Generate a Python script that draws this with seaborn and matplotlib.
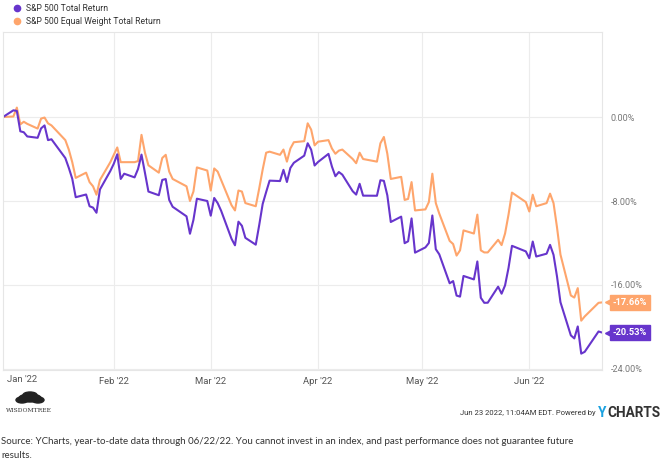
import numpy as np
import pandas as pd
import seaborn as sns
import matplotlib.pyplot as plt
from matplotlib.lines import Line2D
from matplotlib.patches import Ellipse
import matplotlib.transforms as mtransforms

# trading days, Dec 31 2021 through Jun 22 2022
holidays = ['2022-01-17', '2022-02-21', '2022-04-15', '2022-05-30', '2022-06-20']
dates = pd.bdate_range('2021-12-31', '2022-06-22')
dates = dates[~dates.isin(pd.to_datetime(holidays))]

series_names = ['S&P 500 Total Return', 'S&P 500 Equal Weight Total Return']

# YTD total return, %
sp500 = [0.0,
         0.64, 0.58, -1.36, -1.45, -1.85, -1.98, -1.08, -0.80, -2.20, -2.12,
         -3.91, -4.84, -5.88, -7.64, -7.38, -8.50, -8.63, -9.12, -6.90, -5.14,
         -4.45, -3.55, -5.90, -5.40, -5.75, -4.95, -3.58, -5.32, -7.10, -7.45,
         -5.99, -5.91, -7.90, -8.55, -9.46, -11.12, -9.80, -7.78, -8.00,
         -9.40, -7.71, -8.20, -8.93, -11.60, -12.22, -9.97, -10.36, -11.51, -12.16,
         -10.29, -8.28, -7.15, -6.06, -6.10, -5.03, -6.19, -4.85, -4.36, -3.68,
         -2.50, -3.11, -4.62,
         -4.28, -3.51, -4.72, -5.64, -5.24, -5.49, -7.07, -7.39, -6.36, -7.49,
         -7.50, -6.02, -6.08, -7.46, -10.00, -9.49, -12.02, -11.84, -9.66, -12.92,
         -12.42, -12.00, -9.38, -12.59, -13.08, -15.84, -15.63, -17.01, -17.11, -15.14,
         -15.47, -13.76, -17.22, -17.70, -17.69, -16.16, -16.83, -16.04, -14.38, -12.27,
         -12.80,
         -13.45, -11.86, -13.29, -13.02, -12.18, -13.13, -15.18, -17.64, -20.80, -21.09,
         -19.95, -22.54, -22.37, -20.43, -20.53]

sp500_ew = [0.0,
            0.05, 0.90, -0.70, -0.45, -0.65, -1.10, -0.15, -0.05, -0.60, -0.80,
            -2.20, -3.10, -4.30, -5.80, -5.30, -6.20, -6.60, -7.40, -6.00, -4.30,
            -3.60, -2.90, -4.30, -4.30, -4.30, -4.20, -1.70, -3.40, -4.60, -5.30,
            -3.90, -3.60, -5.20, -5.90, -6.60, -8.00, -7.10, -4.80, -5.10,
            -7.00, -4.90, -5.20, -6.00, -8.40, -8.90, -7.00, -7.10, -8.20, -8.50,
            -6.80, -5.00, -3.40, -3.30, -3.60, -3.10, -4.25, -3.00, -2.40, -2.30,
            -0.60, -1.20, -2.70,
            -2.35, -2.20, -3.00, -3.50, -3.20, -3.10, -4.00, -4.40, -3.40, -4.00,
            -4.25, -2.50, -1.90, -3.50, -5.90, -5.70, -7.90, -7.80, -6.20, -8.90,
            -8.80, -8.10, -5.40, -8.20, -9.20, -11.80, -12.10, -13.20, -12.70, -10.80,
            -11.10, -9.30, -12.70, -12.90, -12.90, -11.70, -12.20, -11.10, -9.30, -7.20,
            -8.10,
            -9.00, -7.40, -8.50, -8.20, -7.30, -8.20, -10.50, -13.10, -17.00, -17.20,
            -16.30, -19.40, -19.00, -17.70, -17.66]

yticks = [0, -8, -16, -24]
month_ticks = ['2022-02-01', '2022-03-01', '2022-04-01', '2022-05-01', '2022-06-01']
month_labels = ["Feb '22", "Mar '22", "Apr '22", "May '22", "Jun '22"]

purple = '#6735cc'
orange = '#fea56c'
palette = {series_names[0]: purple, series_names[1]: orange}

df = pd.DataFrame({'date': list(dates) * 2,
                   'value': sp500 + sp500_ew,
                   'series': [series_names[0]] * len(dates) + [series_names[1]] * len(dates)})

sns.set_style('white')
plt.rcParams['font.family'] = ['Roboto', 'DejaVu Sans']

fig = plt.figure(figsize=(6.62, 4.72), dpi=100)
ax = fig.add_axes([3 / 662, 1 - 370 / 472, 599 / 662, 338 / 472])

sns.lineplot(data=df, x='date', y='value', hue='series', hue_order=series_names[::-1],
             palette=palette, linewidth=1.5, ax=ax, legend=False)

ax.set_xlim(pd.Timestamp('2021-12-31'), pd.Timestamp('2022-06-22'))
ax.set_ylim(-24.1, 8.1)
ax.set_xlabel('')
ax.set_ylabel('')

# grid
ax.set_yticks(yticks)
ax.set_xticks(pd.to_datetime(month_ticks))
ax.grid(True, color='#ececec', linewidth=0.8)
for sp in ax.spines.values():
    sp.set_color('#e6e6e6')
    sp.set_linewidth(0.8)

ax.yaxis.tick_right()
ax.set_yticklabels([f'{v:.2f}%' for v in yticks], fontsize=6.5, color='#777777')
ax.set_xticklabels(month_labels, fontsize=6.8, color='#555555')
ax.tick_params(axis='both', length=0)
ax.tick_params(axis='y', pad=6)
ax.tick_params(axis='x', pad=5)
fig.text(22 / 662, 1 - 380 / 472, "Jan '22", fontsize=6.8, color='#555555', ha='center', va='center')

# end-value tags
trans = mtransforms.blended_transform_factory(ax.transAxes, ax.transData)
for vals, col in [(sp500_ew, orange), (sp500, purple)]:
    last = vals[-1]
    ax.plot([1.012], [last], marker='<', color=col, markersize=6, transform=trans, clip_on=False)
    ax.text(1.018, last, f'{last:.2f}%', transform=trans, fontsize=6.7, color='white',
            fontweight='bold', ha='left', va='center', clip_on=False,
            bbox=dict(boxstyle='square,pad=0.3', fc=col, ec=col))

# legend
handles = [Line2D([], [], marker='o', linestyle='', color=purple, markersize=4.5),
           Line2D([], [], marker='o', linestyle='', color=orange, markersize=4.5)]
fig.legend(handles, series_names, loc='upper left', bbox_to_anchor=(4 / 662, 1 + 4 / 472),
           frameon=False, fontsize=6.2, handletextpad=0.5, labelspacing=0.55,
           handlelength=1.2, labelcolor='#333333')

# footer: WisdomTree logo approximation
for (cx, cy, w, h) in [(30, 398, 22, 8), (22, 400, 12, 6), (38, 400, 12, 6), (30, 395, 14, 6)]:
    fig.patches.append(Ellipse((cx / 662, 1 - cy / 472), w / 662, h / 472,
                               transform=fig.transFigure, color='#222222'))
fig.text(29 / 662, 1 - 411 / 472, 'WISDOMTREE', fontsize=4.3, color='#333333',
         ha='center', va='center', family='DejaVu Serif')

fig.text(596 / 662, 1 - 413 / 472, 'Jun 23 2022, 11:04AM EDT. Powered by', fontsize=5.5,
         color='#333333', ha='right', va='center')
fig.text(598 / 662, 1 - 413 / 472, 'Y', fontsize=9.8, color='#1aa1e0', fontweight='bold',
         ha='left', va='center')
fig.text(607 / 662, 1 - 413 / 472, 'CHARTS', fontsize=9.8, color='#333333', fontweight='bold',
         ha='left', va='center')

fig.text(1 / 662, 1 - 441 / 472,
         'Source: YCharts, year-to-date data through 06/22/22. You cannot invest in an index, '
         'and past performance does not guarantee future', fontsize=7.0, color='#333333',
         ha='left', va='center', family='Lato')
fig.text(1 / 662, 1 - 456 / 472, 'results.', fontsize=7.0, color='#333333',
         ha='left', va='center', family='Lato')

fig.savefig('out.png', dpi=100)
